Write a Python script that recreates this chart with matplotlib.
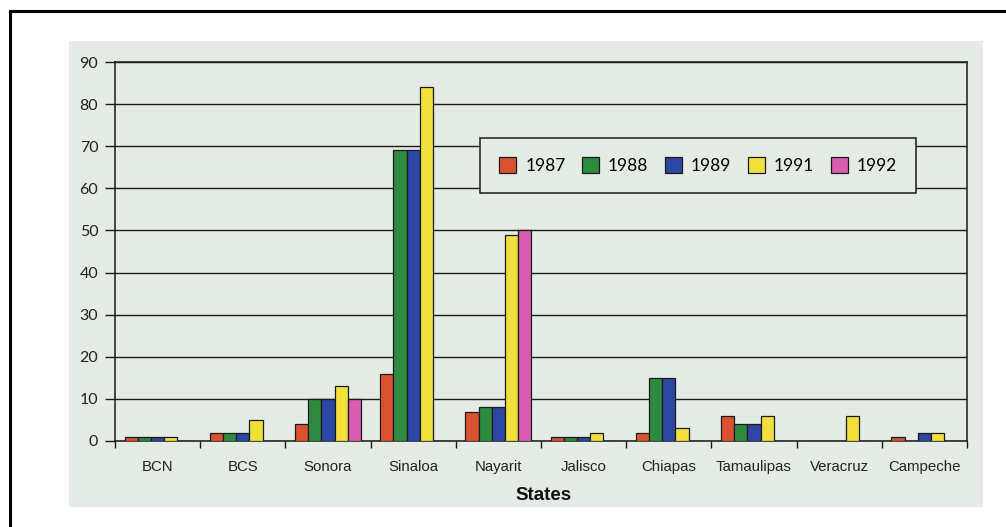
import matplotlib
matplotlib.use("Agg")
import matplotlib.pyplot as plt
import numpy as np
from matplotlib.patches import Rectangle
from matplotlib.lines import Line2D

states = ["BCN", "BCS", "Sonora", "Sinaloa", "Nayarit", "Jalisco",
          "Chiapas", "Tamaulipas", "Veracruz", "Campeche"]
years = ["1987", "1988", "1989", "1991", "1992"]
v1987 = [1, 2, 4, 16, 7, 1, 2, 6, 0, 1]
v1988 = [1, 2, 10, 69, 8, 1, 15, 4, 0, 0]
v1989 = [1, 2, 10, 69, 8, 1, 15, 4, 0, 2]
v1991 = [1, 5, 13, 84, 49, 2, 3, 6, 6, 2]
v1992 = [0, 0, 10, 0, 50, 0, 0, 0, 0, 0]
series = [v1987, v1988, v1989, v1991, v1992]
colors = ["#D9512F", "#2E8A3F", "#2B46A3", "#F2E13C", "#D85CAF"]
yticks = [0, 10, 20, 30, 40, 50, 60, 70, 80, 90]

W, H = 1006, 527
fig = plt.figure(figsize=(W / 100, H / 100), dpi=100)
fig.patch.set_facecolor("white")

bg = "#E5ECE5"
# light green panel
fig.patches.append(Rectangle((69 / W, 1 - 507 / H), (983 - 69) / W, (507 - 41) / H,
                             transform=fig.transFigure, facecolor=bg, edgecolor="none", zorder=-5))
# outer frame lines (left and top)
fig.lines.append(Line2D([10 / W, 10 / W], [1 - 11 / H, 0], transform=fig.transFigure, color="black", lw=2.2, zorder=-4))
fig.lines.append(Line2D([10 / W, 1], [1 - 11 / H, 1 - 11 / H], transform=fig.transFigure, color="black", lw=2.2, zorder=-4))

left, right, top, bottom = 115, 967, 62, 441
ax = fig.add_axes([left / W, 1 - bottom / H, (right - left) / W, (bottom - top) / H])
ax.set_zorder(2)
ax.set_facecolor(bg)

n = len(states)
w = 0.155
x = np.arange(n) + 0.5
for j, (vals, c, yr) in enumerate(zip(series, colors, years)):
    ax.bar(x + (j - 2) * w, vals, width=w, color=c, edgecolor="#1a1a1a", linewidth=0.9,
           label=yr, zorder=3)

ax.set_xlim(0, n)
ax.set_ylim(0, 90)
ax.set_yticks(yticks)
ax.set_yticklabels([str(t) for t in yticks], fontsize=11.5, family="Lato", color="#222222")
ax.yaxis.grid(True, color="#1a1a1a", linewidth=1.0, zorder=1)
ax.set_axisbelow(True)

# x ticks at boundaries, labels at centers
ax.set_xticks(np.arange(n + 1))
ax.set_xticklabels([])
ax.set_xticks(x, minor=True)
ax.set_xticklabels(states, minor=True, fontsize=10.8, family="Liberation Sans", color="#222222")
ax.tick_params(axis="x", which="major", direction="out", length=5, width=1.0, color="#1a1a1a")
ax.tick_params(axis="x", which="minor", length=0, pad=14)
ax.tick_params(axis="y", direction="out", length=7, width=1.0, color="#1a1a1a", pad=5)
for s in ax.spines.values():
    s.set_color("#1a1a1a")
    s.set_linewidth(1.1)

fig.text(544 / W, 1 - 496 / H, "States", ha="center", va="center", fontsize=13.5,
         fontweight="bold", family="Liberation Sans", color="#111111")

leg = ax.legend(loc="upper left", bbox_to_anchor=((480 - left) / (right - left), (bottom - 138) / (bottom - top)),
                ncol=5, frameon=True, fancybox=False, edgecolor="#1a1a1a", facecolor=bg, framealpha=1,
                prop={"family": "Lato", "size": 12.5}, handlelength=1.0, handleheight=1.0,
                handletextpad=0.5, columnspacing=0.95, borderpad=1.1, borderaxespad=0)
leg.get_frame().set_linewidth(1.1)
leg.set_zorder(5)

fig.savefig("out.png", dpi=100, facecolor="white")
